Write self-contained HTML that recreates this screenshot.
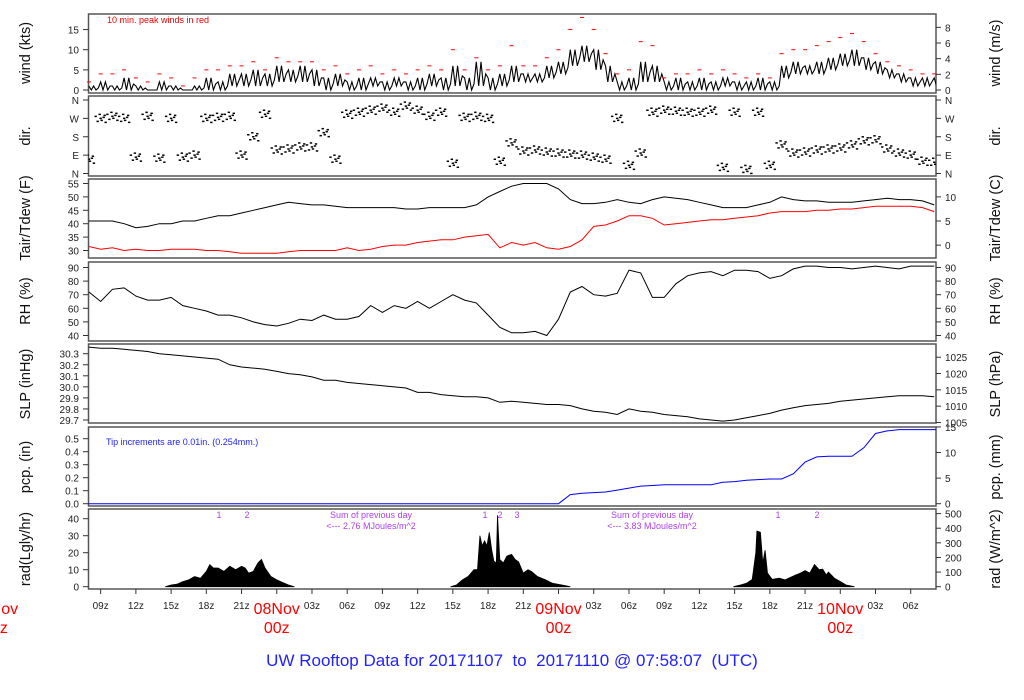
<!DOCTYPE html>
<html><head><meta charset="utf-8"><style>
body{margin:0;background:#fff;}
svg{display:block;font-family:"Liberation Sans",Arial,sans-serif;}
</style></head><body>
<svg id="c" width="1024" height="700" viewBox="0 0 1024 700" xmlns="http://www.w3.org/2000/svg"></svg>
<script>
// hourly data, hours 8..80 since 07Nov 00z
const hours = Array.from({length:73},(_,i)=>8+i);
const windKts = [1,2,1,3,1,0,2,1,0,1, 3,2,4,4,5,4,6,5,6,5,3,4, 2,3,3,2,3,2,3, 4,3,6,3,7,3,4,6, 4,4,6,7, 10,11,10,6, 2,3,7,6, 2,3,2,3,2,3,2,2,3,2, 6,7,6,7,8,9,10,8,7, 5,4,3,3,3];
const windLow = [0,0,0,0,0,0,0,0,0,0, 0,0,1,1,1,1,2,2,2,1,0,1, 0,0,1,0,1,0,0, 1,0,1,0,1,0,1,2, 2,2,3,4, 6,7,5,2, 0,0,2,2, 0,0,0,0,0,1,0,0,0,0, 3,4,4,4,5,6,6,5,4, 3,2,1,1,1];
const gustKts = [2,4,4,5,3,2,4,3,1,3, 5,5,6,6,7,5,8,7,7,7,5,6, 4,5,6,4,5,4,5, 6,5,10,5,8,5,6,11, 6,6,8,10, 15,18,15,9, 4,5,12,11, 3,4,4,5,4,5,4,3,4,3, 9,10,10,11,12,13,14,12,9, 7,6,5,4,4];
const dirDeg = [70,270,280,270,80,280,75,270,80,90, 270,275,280,90,180,290,115,120,130,130,200,70, 290,300,310,320,300,330,310, 280,300,50,275,280,270,60,150, 110,115,105,100, 95,90,80,70, 270,40,100,300, 310,305,300,300,310,30,300,20,300,40, 140,100,105,115,120,125,140,160,165, 120,100,90,60,55];
const tairF = [41,41,41,40,38.5,39,40,40,41,41,42,43,43,44,45,46,47,48,47.5,47,47,46.5,46,46,46,46,46,45.5,45.5,46,46,46,46,47,50,52,54, 55,55,55,53,49,47.5,47.5,48,49,48,47.5,49,50,49.5,49,48,47,46,46,46,47,48,50,49,48.5,48.5,48,48,48,48.5,49,49.5,49,49,48.5,47];
const tdewF = [31.5,30.5,31,30,30.5,30,30,30.5,30.5,30.5,30,30,29.5,29,29,29,29,29.5,30,30,30,30,31,30,30.5,31.5,32,32,33,33.5,34,34,35,35.5,36,31,33, 32,33,31,30.5,31.5,34,39,39.5,41,43,43,42,39.5,40,40.5,41,41.5,41.5,42,42.5,43,44,44.5,44.5,44.5,45,45,45.5,45.5,46,46.5,46.5,46.5,46.5,46,44.5];
const rhPct = [72,65,74,75,69,66,66,68,62,60,58,55,55,53,50,48,47,49,52,51,55,52,52,54,62,57,62,60,65,60,65,70,66,64,55,46,42, 42,43,40,52,72,76,70,69,71,88,86,68,68,78,84,86,87,84,88,88,87,82,84,89,91,91,90,90,89,90,91,90,89,91,91,91];
const slpInHg = [30.36,30.35,30.35,30.34,30.33,30.32,30.30,30.29,30.28,30.27,30.26,30.25,30.20,30.18,30.17,30.16,30.14,30.12,30.11,30.09,30.06,30.06,30.04,30.03,30.02,30.01,30.00,29.99,29.95,29.95,29.93,29.92,29.91,29.91,29.90,29.86,29.87, 29.86,29.85,29.84,29.84,29.83,29.80,29.78,29.77,29.75,29.80,29.78,29.77,29.75,29.74,29.73,29.71,29.70,29.69,29.70,29.72,29.74,29.76,29.79,29.81,29.83,29.84,29.85,29.87,29.88,29.89,29.90,29.91,29.92,29.92,29.92,29.91];
const pcpIn = [0,0,0,0,0,0,0,0,0,0,0,0,0,0,0,0,0,0,0,0,0,0,0,0,0,0,0,0,0,0,0,0,0,0,0,0,0,0,0,0,0, 0.07,0.08,0.085,0.09,0.105,0.12,0.135,0.14,0.145,0.145,0.145,0.145,0.145,0.165,0.17,0.18,0.185,0.19,0.19,0.23,0.32,0.36,0.365,0.365,0.365,0.43,0.54,0.56,0.57,0.57,0.57,0.57];
const radT = [14.5,15,15.5,16,16.5,17,17.5,18,18.3,18.6,19,19.5,20,20.5,21,21.3,21.6,22,22.4,22.7,23,23.5,24,24.5,25,25.5,
 38.8,39.3,39.8,40.3,40.8,41.1,41.3,41.5,41.7,41.9,42.1,42.3,42.5,42.7,42.8,43.0,43.3,43.6,44,44.3,44.6,45,45.4,45.7,46.2,46.9,47.5,48.3,49,
 62.9,63.5,64,64.5,64.8,64.9,65.2,65.4,65.6,65.8,66.2,66.8,67.3,68.2,68.6,69,69.4,69.8,70.2,70.5,70.8,71,71.5,71.9,72.5,73.2];
const radV = [0,1,1.5,3,4,6,5,9,13,11,11,9,12,10,12,11,8,9,14,16,11,6,4,2.5,1,0,
 0,1,4,6,10,10,30,24,27,24,32,22,15,14,42,16,14,18,19,16,14.6,8,10,9,6,4,2,1,0,
 0,1,2,4.3,20,32.7,32,14,21.5,8,4.3,5,4,6.9,8,9.5,8,13,10,10.3,7,8.6,5,3.4,1,0];
const xTickHours = [9,12,15,18,21,27,30,33,36,39,42,45,51,54,57,60,63,66,69,75,78];
const xTickLabels = ["09z","12z","15z","18z","21z","03z","06z","09z","12z","15z","18z","21z","03z","06z","09z","12z","15z","18z","21z","03z","06z"];
const dayHours = [0,24,48,72];
const dayLabels = ["07Nov","08Nov","09Nov","10Nov"];

const svg=document.getElementById('c');
const NS='http://www.w3.org/2000/svg';
function mk(tag,attrs,parent){const e=document.createElementNS(NS,tag);for(const k in attrs)e.setAttribute(k,attrs[k]);(parent||svg).appendChild(e);return e;}
function txt(s,attrs,parent){const e=mk('text',attrs,parent);e.textContent=s;return e;}
const L=88.5,R=936;
const xs=h=>-5+h*11.74;
const panels=[[14,93],[96,176],[179,258],[262,341],[344,423],[427,506],[509,589]];
const ys={
 wind:v=>90-v*4.03, dir:v=>173.5-v/360*73.5, t:v=>183.5+(55-v)*2.68, rh:v=>267.5+(90-v)*1.36,
 slp:v=>353.7+(30.3-v)*110.5, pcp:v=>503.7-v*130, rad:v=>586.7-v*1.7};
const defs=mk('defs',{});
const cp=mk('clipPath',{id:'clip'},defs);mk('rect',{x:L,y:0,width:R-L,height:700},cp);

function leftTicks(vals,labels,f,name){const g=mk('g',{'font-size':'10','text-anchor':'end',fill:'#222'});
 
 vals.forEach((v,i)=>{const y=f(v);mk('line',{x1:83,x2:L,y1:y,y2:y,stroke:'#333'},g);txt(labels[i],{x:79,y:y+4},g);});}
function rightTicks(vals,labels,f,name){const g=mk('g',{'font-size':'10','text-anchor':'start',fill:'#222'});
 
 vals.forEach((v,i)=>{const y=f(v);mk('line',{x1:R,x2:R+5,y1:y,y2:y,stroke:'#333'},g);txt(labels[i],{x:945,y:y+4},g);});}
function title(s,x,cy,name){const t=txt(s,{x:x,y:cy,'font-size':'14.5','text-anchor':'middle',transform:`rotate(-90 ${x} ${cy})`,fill:'#111'});
 }
function line(vals,f,color,name,w){let d='';vals.forEach((v,i)=>{d+=(i?'L':'M')+xs(hours[i]).toFixed(1)+','+f(v).toFixed(1);});
 const p=mk('path',{d:d,fill:'none',stroke:color,'stroke-width':w||1,'clip-path':'url(#clip)'});}

panels.forEach((p,i)=>{const r=mk('rect',{x:L,y:p[0],width:R-L,height:p[1]-p[0],fill:'none',stroke:'#555','stroke-width':1.5});
 });

// wind
leftTicks([0,5,10,15],["0","5","10","15"],ys.wind,'wind-kts-axis');
rightTicks([0,2,4,6,8].map(v=>v*1.9438),["0","2","4","6","8"],ys.wind,'wind-ms-axis');
title('wind (kts)',30,53,'wind-kts-title');title('wind (m/s)',1000,53,'wind-ms-title');
txt('10 min. peak winds in red',{x:107,y:23,'font-size':'9',fill:'#e00'});
{let d='';windKts.forEach((v,i)=>{const h=hours[i];
  d+=(i?'L':'M')+xs(h).toFixed(1)+','+ys.wind(v).toFixed(1);
  d+='L'+xs(h+0.2).toFixed(1)+','+ys.wind(windLow[i]).toFixed(1);
  d+='L'+xs(h+0.4).toFixed(1)+','+ys.wind(v).toFixed(1);
  d+='L'+xs(h+0.6).toFixed(1)+','+ys.wind(windLow[i]).toFixed(1);
  d+='L'+xs(h+0.8).toFixed(1)+','+ys.wind((v+windLow[i])/2).toFixed(1);});
 const p=mk('path',{d:d,fill:'none',stroke:'#000','stroke-width':1.1,'clip-path':'url(#clip)'});}
gustKts.forEach((v,i)=>{const x=xs(hours[i]);const e=mk('line',{x1:x-2,x2:x+2,y1:ys.wind(v),y2:ys.wind(v),stroke:'#f00','stroke-width':1});
 });
// dir
leftTicks([0,90,180,270,360],["N","E","S","W","N"],ys.dir,'dir-left-axis');
rightTicks([0,90,180,270,360],["N","E","S","W","N"],ys.dir,'dir-right-axis');
title('dir.',30,136,'dir-title');title('dir.',1000,136,'dir-right-title');
const jit=[[-5,-2],[-3,3],[-1,-4],[1,2],[3,-1],[5,4],[0,0],[4,-3]];
dirDeg.forEach((v,i)=>{jit.forEach(j=>{const x=xs(hours[i])+j[0];const y=ys.dir(v)+j[1];
 const e=mk('line',{x1:x-1.2,x2:x+1.2,y1:y,y2:y,stroke:'#000','stroke-width':1.5,'clip-path':'url(#clip)'});
 });});
// temp
leftTicks([30,35,40,45,50,55],["30","35","40","45","50","55"],ys.t,'temp-f-axis');
rightTicks([0,5,10].map(c=>c*1.8+32),["0","5","10"],ys.t,'temp-c-axis');
title('Tair/Tdew (F)',30,218,'temp-f-title');title('Tair/Tdew (C)',1000,218,'temp-c-title');
line(tairF,ys.t,'#000','tair-line');line(tdewF,ys.t,'#f00','tdew-line');
// rh
leftTicks([40,50,60,70,80,90],["40","50","60","70","80","90"],ys.rh,'rh-left-axis');
rightTicks([40,50,60,70,80,90],["40","50","60","70","80","90"],ys.rh,'rh-right-axis');
title('RH (%)',30,301,'rh-title');title('RH (%)',1000,301,'rh-right-title');
line(rhPct,ys.rh,'#000','rh-line');
// slp
leftTicks([29.7,29.8,29.9,30.0,30.1,30.2,30.3],["29.7","29.8","29.9","30.0","30.1","30.2","30.3"],ys.slp,'slp-inhg-axis');
rightTicks([1005,1010,1015,1020,1025].map(v=>v/33.8639),["1005","1010","1015","1020","1025"],ys.slp,'slp-hpa-axis');
title('SLP (inHg)',30,384,'slp-inhg-title');title('SLP (hPa)',1000,384,'slp-hpa-title');
line(slpInHg,ys.slp,'#000','slp-line');
// pcp
leftTicks([0,0.1,0.2,0.3,0.4,0.5],["0.0","0.1","0.2","0.3","0.4","0.5"],ys.pcp,'pcp-in-axis');
rightTicks([0,5,10,15].map(v=>v/25.4),["0","5","10","15"],ys.pcp,'pcp-mm-axis');
title('pcp. (in)',30,467,'pcp-in-title');title('pcp. (mm)',1000,467,'pcp-mm-title');
txt('Tip increments are 0.01in. (0.254mm.)',{x:106,y:445,'font-size':'9',fill:'#22f'});
{let d='M'+L+','+ys.pcp(0);pcpIn.forEach((v,i)=>{const x=xs(hours[i]);d+='L'+x.toFixed(1)+','+ys.pcp(v).toFixed(1);});d+='L'+R+','+ys.pcp(pcpIn[pcpIn.length-1]);
 const p=mk('path',{d:d,fill:'none',stroke:'#00f','stroke-width':1});}
// rad
leftTicks([0,10,20,30,40],["0","10","20","30","40"],ys.rad,'rad-lgly-axis');
rightTicks([0,100,200,300,400,500].map(v=>v*0.086),["0","100","200","300","400","500"],ys.rad,'rad-wm2-axis');
title('rad(Lgly/hr)',30,549,'rad-lgly-title');title('rad (W/m^2)',1000,549,'rad-wm2-title');
[[0,26],[26,55],[55,radT.length]].forEach((s,k)=>{let d='';for(let i=s[0];i<s[1];i++){d+=(i===s[0]?'M':'L')+xs(radT[i]).toFixed(1)+','+ys.rad(radV[i]).toFixed(1);}d+='Z';
 const p=mk('path',{d:d,fill:'#000',stroke:'#000','stroke-width':0.8});});
const pur='#b040f0';
[[219,'1'],[247,'2'],[485,'1'],[500,'2'],[517,'3'],[778,'1'],[817,'2']].forEach(a=>{const t=txt(a[1],{x:a[0],y:518,'font-size':'9','text-anchor':'middle',fill:pur});});
[[371,'2.76'],[652,'3.83']].forEach(a=>{const g=mk('g',{'font-size':'9','text-anchor':'middle',fill:pur});
 txt('Sum of previous day',{x:a[0],y:518},g);txt('<--- '+a[1]+' MJoules/m^2',{x:a[0],y:529},g);});
// x axis
xTickHours.forEach((h,i)=>{const x=xs(h);mk('line',{x1:x,x2:x,y1:589,y2:594,stroke:'#333'});
 const t=txt(xTickLabels[i],{x:x,y:609,'font-size':'10','text-anchor':'middle',fill:'#222'});});
dayHours.forEach((h,i)=>{const x=xs(h);mk('line',{x1:x,x2:x,y1:589,y2:594,stroke:'#333'});
 const g=mk('g',{'font-size':'16','text-anchor':'middle',fill:'#f00'});
 txt(dayLabels[i],{x:x,y:614},g);txt('00z',{x:x,y:633},g);});
const tt=txt('UW Rooftop Data for 20171107  to  20171110 @ 07:58:07  (UTC)',{x:512,y:666,'font-size':'17','text-anchor':'middle',fill:'#22f','xml:space':'preserve'});

tt.style.whiteSpace='pre';
</script>
</body></html>
